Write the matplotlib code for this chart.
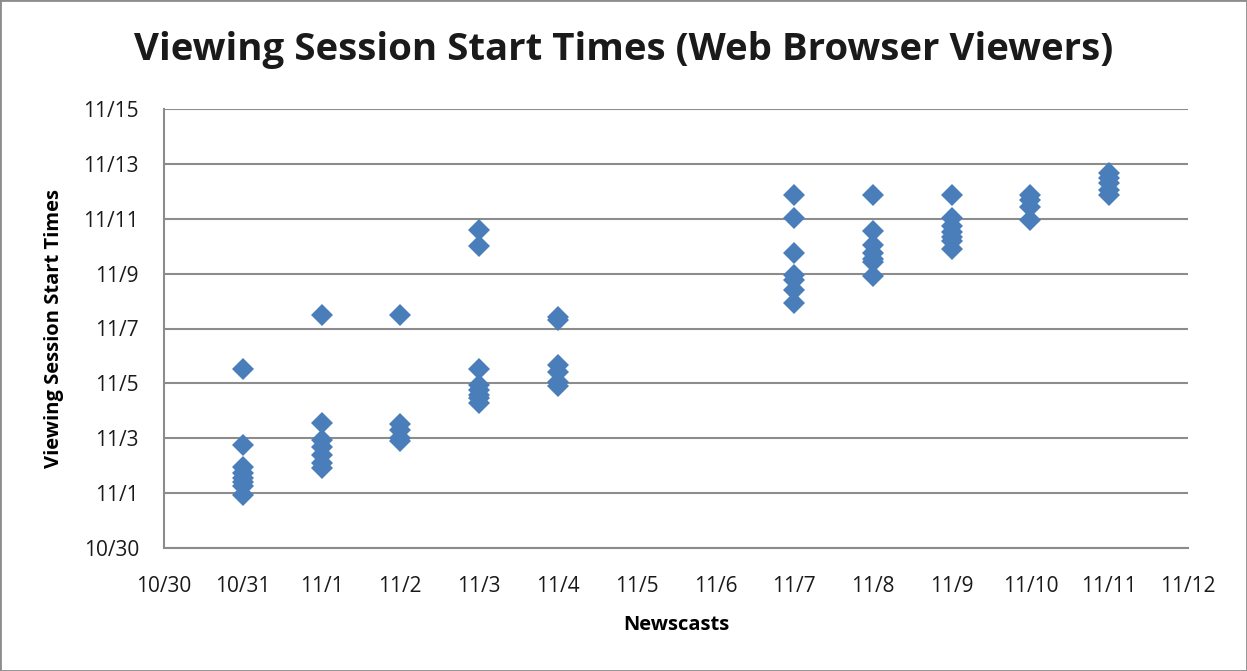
import matplotlib
matplotlib.use("Agg")
import matplotlib.pyplot as plt
import matplotlib.dates as mdates
import pandas as pd

# Newscast dates (x) and viewing session start times (y)
newscasts = ["2012-10-31"] * 8 + ["2012-11-01"] * 7 + ["2012-11-02"] * 5 + \
            ["2012-11-03"] * 8 + ["2012-11-04"] * 6 + ["2012-11-07"] * 7 + \
            ["2012-11-08"] * 7 + ["2012-11-09"] * 7 + ["2012-11-10"] * 4 + \
            ["2012-11-11"] * 5
start_times = [
    # 10/31
    "2012-11-05 12:30", "2012-11-02 18:00", "2012-11-01 22:48", "2012-11-01 17:30",
    "2012-11-01 13:10", "2012-11-01 09:40", "2012-11-01 06:00", "2012-10-31 22:20",
    # 11/1
    "2012-11-07 11:45", "2012-11-03 13:30", "2012-11-02 22:30", "2012-11-02 16:20",
    "2012-11-02 09:20", "2012-11-02 02:20", "2012-11-01 22:00",
    # 11/2
    "2012-11-07 11:45", "2012-11-03 12:30", "2012-11-03 07:20", "2012-11-03 00:15",
    "2012-11-02 21:40",
    # 11/3
    "2012-11-10 14:10", "2012-11-10 00:00", "2012-11-05 12:30", "2012-11-04 22:30",
    "2012-11-04 18:15", "2012-11-04 14:00", "2012-11-04 11:20", "2012-11-04 06:40",
    # 11/4
    "2012-11-07 10:00", "2012-11-07 07:30", "2012-11-05 16:00", "2012-11-05 09:50",
    "2012-11-05 01:10", "2012-11-04 21:40",
    # 11/7
    "2012-11-11 20:40", "2012-11-11 00:45", "2012-11-09 18:00", "2012-11-08 22:50",
    "2012-11-08 18:30", "2012-11-08 09:40", "2012-11-07 22:20",
    # 11/8
    "2012-11-11 20:40", "2012-11-10 13:10", "2012-11-10 01:00", "2012-11-09 18:00",
    "2012-11-09 12:45", "2012-11-09 10:00", "2012-11-08 21:50",
    # 11/9
    "2012-11-11 20:40", "2012-11-11 00:45", "2012-11-10 17:30", "2012-11-10 12:30",
    "2012-11-10 08:00", "2012-11-10 04:30", "2012-11-09 21:40",
    # 11/10
    "2012-11-11 20:40", "2012-11-11 16:20", "2012-11-11 10:30", "2012-11-10 22:50",
    # 11/11
    "2012-11-12 16:00", "2012-11-12 11:30", "2012-11-12 07:10", "2012-11-12 01:10",
    "2012-11-11 20:40",
]
x_limits = ["2012-10-30", "2012-11-12"]
y_limits = ["2012-10-30", "2012-11-15"]

title = "Viewing Session Start Times (Web Browser Viewers)"
xlabel = "Newscasts"
ylabel = "Viewing Session Start Times"

x = pd.to_datetime(newscasts)
y = pd.to_datetime(start_times)

plt.rcParams['font.family'] = ['Open Sans', 'DejaVu Sans']

fig = plt.figure(figsize=(12.47, 6.71), dpi=100)
ax = fig.add_axes([164 / 1247, 1 - 548 / 671, (1188 - 164) / 1247, (548 - 109) / 671])

ax.plot(x, y, linestyle="none", marker="D", markersize=11,
        color="#4a7ebb", markeredgewidth=0, zorder=3)

ax.set_xlim(pd.to_datetime(x_limits[0]), pd.to_datetime(x_limits[1]))
ax.set_ylim(pd.to_datetime(y_limits[0]), pd.to_datetime(y_limits[1]))
ax.xaxis.set_major_locator(mdates.DayLocator(interval=1))
ax.yaxis.set_major_locator(mdates.DayLocator(bymonthday=[1, 3, 5, 7, 9, 11, 13, 15, 30]))

def fmt(v, pos=None):
    d = mdates.num2date(v)
    return f"{d.month}/{d.day}"

ax.xaxis.set_major_formatter(plt.FuncFormatter(fmt))
ax.yaxis.set_major_formatter(plt.FuncFormatter(fmt))

ax.grid(axis="y", color="#8c8c8c", linewidth=1.5, zorder=1)
ax.set_axisbelow(True)
for s in ["top", "right"]:
    ax.spines[s].set_visible(False)
for s in ["left", "bottom"]:
    ax.spines[s].set_color("#8c8c8c")
    ax.spines[s].set_linewidth(1.5)
ax.tick_params(axis="both", length=0, labelsize=15, colors="#1a1a1a")
ax.tick_params(axis="x", pad=20)
ax.tick_params(axis="y", pad=18)

ax.set_xlabel(xlabel, fontsize=14.5, fontweight="bold", labelpad=13)
ax.set_ylabel(ylabel, fontsize=14.5, fontweight="bold", labelpad=14)
fig.text(0.5, 1 - 50 / 671, title, ha="center", va="center",
         fontsize=27.6, fontweight="bold", color="#1a1a1a")

border = plt.Rectangle((0, 0), 1, 1, transform=fig.transFigure, fill=False,
                       edgecolor="#8c8c8c", linewidth=2)
fig.patches.append(border)

fig.savefig("out.png", dpi=100)
